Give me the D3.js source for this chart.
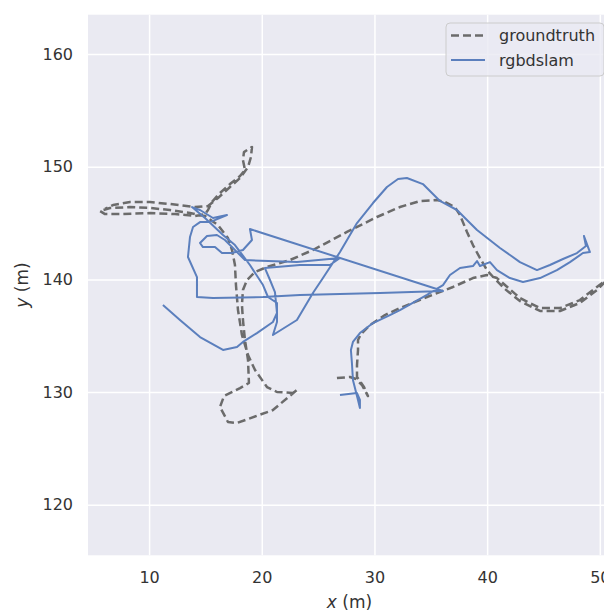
<!DOCTYPE html>
<html lang="en">
<head>
    <meta charset="UTF-8">
    <title>trajectory</title>
    <script src="https://cdn.jsdelivr.net/npm/d3@7"></script>
    <style>
        body { margin: 0; background: #fff; }
        text { font-family: "DejaVu Sans", sans-serif; }
    </style>
</head>
<body>
<script>
    // groundtruth trajectory (m)
    var gtX = [26.67, 27.83, 28.36, 28.89, 29.42, 29.07, 28.45, 28.45, 28.54, 28.54, 28.80, 29.60, 30.93, 32.26,
        34.66, 36.97, 38.74, 39.98, 40.87, 41.58, 42.91, 44.69, 46.46, 48.23, 49.74, 50.90, 49.74, 48.23, 46.46,
        44.69, 42.91, 41.58, 40.69, 39.98, 39.36, 38.74, 38.21, 37.59, 37.14, 36.26, 35.55, 34.04, 32.26, 30.22,
        27.56, 24.54, 22.50, 20.46, 19.40, 18.69, 18.33, 18.24, 18.33, 18.51, 18.78, 18.86, 18.07, 16.65, 16.29,
        17.00, 17.80, 20.99, 23.12, 22.77, 21.35, 20.46, 19.40, 18.78, 18.24, 17.89, 17.71, 17.62, 17.36, 17.00,
        16.11, 14.96, 13.63, 11.85, 10.08, 8.31, 6.53, 5.64, 6.09, 7.42, 10.08, 12.30, 14.07, 14.96, 15.23, 15.58,
        16.29, 17.18, 18.07, 18.51, 18.33, 18.42, 19.13, 19.04, 18.78, 18.07, 17.18, 16.11, 15.23, 14.07, 11.85,
        10.08, 8.31, 6.80, 6.09];
    var gtY = [131.25, 131.34, 131.16, 130.63, 129.65, 130.45, 131.34, 132.40, 133.74, 134.62, 135.15, 135.95,
        136.84, 137.46, 138.44, 139.33, 140.12, 140.39, 140.12, 139.50, 138.35, 137.46, 137.46, 138.17, 139.33,
        140.21, 139.06, 137.91, 137.20, 137.20, 138.08, 139.15, 140.04, 140.83, 141.90, 143.05, 144.21, 145.71,
        146.42, 146.87, 147.05, 146.96, 146.42, 145.54, 144.21, 142.61, 141.72, 141.10, 140.66, 139.95, 139.06,
        137.73, 136.40, 134.62, 132.85, 130.81, 130.36, 129.65, 128.68, 127.35, 127.26, 128.41, 130.19, 129.92,
        130.01, 130.45, 131.96, 133.29, 135.07, 137.28, 139.50, 141.28, 142.61, 143.67, 144.83, 145.63, 145.89,
        146.16, 146.34, 146.42, 146.34, 146.07, 145.80, 145.80, 145.89, 145.80, 145.63, 145.80, 146.16, 146.87,
        147.67, 148.46, 149.17, 149.71, 150.59, 151.30, 151.75, 150.86, 149.97, 149.00, 148.20, 147.22, 146.51,
        146.42, 146.69, 146.87, 146.87, 146.60, 146.25];

    // rgbdslam estimate (m)
    var slamX = [26.94, 28.45, 28.71, 28.71, 28.54, 28.36, 28.09, 28.00, 27.91, 28.09, 28.71, 29.87, 31.37, 32.26,
        34.66, 36.08, 36.70, 37.59, 38.74, 39.10, 39.36, 40.25, 40.87, 42.02, 43.18, 44.69, 46.19, 47.35, 48.50,
        49.12, 48.59, 48.77, 47.97, 46.73, 45.57, 44.42, 42.91, 41.14, 39.10, 37.32, 35.81, 35.10, 34.30, 32.88,
        32.09, 31.11, 29.87, 28.45, 26.94, 25.43, 24.54, 23.12, 20.99, 21.35, 21.35, 20.55, 20.11, 18.95, 17.62,
        16.56, 14.96, 13.81, 14.52, 15.67, 16.91, 15.40, 14.52, 13.90, 13.63, 13.45, 14.25, 14.25, 15.67, 20.11,
        23.39, 30.49, 36.08, 18.95, 19.13, 18.33, 17.36, 16.47, 15.85, 14.78, 14.52, 15.14, 16.02, 16.73, 18.51,
        23.12, 26.94, 26.05, 23.39, 20.28, 20.73, 21.17, 21.35, 20.99, 19.57, 18.33, 17.80, 16.56, 14.52, 12.74,
        11.23];
    var slamY = [129.74, 129.92, 129.30, 128.59, 129.30, 130.01, 131.07, 132.58, 133.74, 134.45, 135.24, 136.13,
        136.84, 137.28, 138.62, 139.50, 140.39, 141.01, 141.19, 141.63, 141.19, 141.54, 140.83, 140.12, 139.77,
        140.12, 140.83, 141.54, 142.34, 142.43, 143.85, 142.96, 142.34, 141.81, 141.28, 140.83, 141.54, 142.79,
        144.38, 146.16, 146.96, 147.67, 148.46, 149.00, 148.91, 148.20, 146.78, 145.00, 142.43, 140.12, 138.79,
        136.40, 135.07, 136.22, 137.91, 138.44, 139.50, 141.28, 143.05, 143.94, 145.45, 146.42, 146.16, 145.45,
        145.71, 145.09, 145.09, 144.65, 143.76, 141.99, 140.21, 138.44, 138.35, 138.44, 138.62, 138.79, 138.97,
        144.47, 143.50, 142.61, 142.34, 142.34, 142.87, 142.87, 143.23, 143.85, 143.94, 143.50, 141.72, 141.54,
        141.90, 141.28, 141.28, 141.01, 139.95, 138.88, 137.02, 136.22, 135.24, 134.45, 134.00, 133.74, 134.89,
        136.40, 137.73];

    var xTicks = [10, 20, 30, 40, 50];
    var yTicks = [120, 130, 140, 150, 160];
    var seriesNames = ["groundtruth", "rgbdslam"];

    var plotLeft = 88, plotTop = 14.7, plotW = 523, plotH = 540.6;
    var gtColor = "#6b6b6b", slamColor = "#5b7fbd";

    var svg = d3.select("body").append("svg")
        .attr("width", 604)
        .attr("height", 612);

    var xScale = d3.scaleLinear()
        .domain([4.58, 50.99])
        .range([plotLeft, plotLeft + plotW]);

    var yScale = d3.scaleLinear()
        .domain([115.52, 163.49])
        .range([plotTop + plotH, plotTop]);

    svg.append("rect")
        .attr("x", plotLeft).attr("y", plotTop)
        .attr("width", plotW).attr("height", plotH)
        .attr("fill", "#eaeaf2");

    svg.append("clipPath").attr("id", "clip")
        .append("rect")
        .attr("x", plotLeft).attr("y", plotTop)
        .attr("width", plotW).attr("height", plotH);

    // grid + tick labels
    var xAxis = svg.append("g")
        .attr("transform", "translate(0," + (plotTop + plotH) + ")")
        .call(d3.axisBottom(xScale).tickValues(xTicks).tickSize(-plotH).tickPadding(16));

    var yAxis = svg.append("g")
        .attr("transform", "translate(" + plotLeft + ",0)")
        .call(d3.axisLeft(yScale).tickValues(yTicks).tickSize(-plotW).tickPadding(15));

    [xAxis, yAxis].forEach(function (g) {
        g.select(".domain").remove();
        g.selectAll("line").attr("stroke", "#ffffff").attr("stroke-width", 1.5);
        g.selectAll("text")
            .attr("fill", "#333333")
            .style("font-size", "16px")
            .style("font-family", "DejaVu Sans, sans-serif");
    });

    var lineFn = function (xs, ys) {
        return d3.line()
            .x(function (d, i) { return xScale(xs[i]); })
            .y(function (d, i) { return yScale(ys[i]); })(xs);
    };

    var plot = svg.append("g").attr("clip-path", "url(#clip)");

    plot.append("path")
        .attr("d", lineFn(gtX, gtY))
        .attr("fill", "none")
        .attr("stroke", gtColor)
        .attr("stroke-width", 2.5)
        .attr("stroke-dasharray", "8,4")
        .attr("stroke-linejoin", "round");

    plot.append("path")
        .attr("d", lineFn(slamX, slamY))
        .attr("fill", "none")
        .attr("stroke", slamColor)
        .attr("stroke-width", 2)
        .attr("stroke-linejoin", "round");

    // legend
    var legend = svg.append("g").attr("transform", "translate(446,23)");
    legend.append("rect")
        .attr("width", 158).attr("height", 53)
        .attr("rx", 4)
        .attr("fill", "#eaeaf2").attr("fill-opacity", 0.8)
        .attr("stroke", "#cccccc").attr("stroke-width", 1);

    seriesNames.forEach(function (name, i) {
        var yy = 12.5 + i * 24.5;
        legend.append("line")
            .attr("x1", 5).attr("x2", 39)
            .attr("y1", yy).attr("y2", yy)
            .attr("stroke", i === 0 ? gtColor : slamColor)
            .attr("stroke-width", i === 0 ? 2.5 : 2)
            .attr("stroke-dasharray", i === 0 ? "8,4" : null);
        legend.append("text")
            .attr("x", 53).attr("y", yy + 5.5)
            .attr("fill", "#333333")
            .style("font-size", "16px")
            .text(name);
    });

    // axis labels
    var xl = svg.append("text")
        .attr("x", plotLeft + plotW / 2).attr("y", 608)
        .attr("text-anchor", "middle")
        .attr("fill", "#333333")
        .style("font-size", "17px");
    xl.append("tspan").style("font-style", "italic").text("x");
    xl.append("tspan").text(" (m)");

    var yl = svg.append("text")
        .attr("transform", "translate(28," + (plotTop + plotH / 2) + ") rotate(-90)")
        .attr("text-anchor", "middle")
        .attr("fill", "#333333")
        .style("font-size", "17px");
    yl.append("tspan").style("font-style", "italic").text("y");
    yl.append("tspan").text(" (m)");
</script>
</body>
</html>
